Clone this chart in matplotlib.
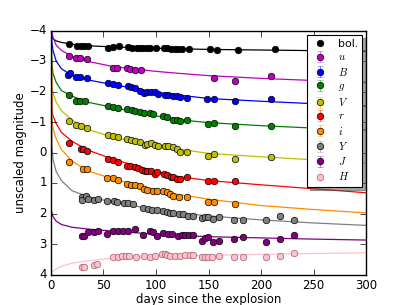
import matplotlib
matplotlib.use('Agg')
import matplotlib.pyplot as plt

plt.style.use('classic')
plt.rcParams['figure.facecolor'] = 'white'
plt.rcParams['savefig.facecolor'] = 'white'
plt.rcParams['font.size'] = 8.5
plt.rcParams['xtick.major.pad'] = 3
plt.rcParams['ytick.major.pad'] = 3

# observed points: days since explosion, unscaled magnitude
bol_t = [17.5, 24.4, 28.6, 31.7, 34.9, 54.6, 59.4, 64.4, 73.7, 76.8, 81.6, 84.8, 87.9, 91.1, 94.3,
         99.7, 107.6, 110.2, 114, 118, 121, 124.4, 131.7, 151.4, 158.4, 178.4, 213.3]
bol_m = [-3.55, -3.49, -3.50, -3.50, -3.50, -3.44, -3.46, -3.48, -3.46, -3.44, -3.42, -3.42, -3.42,
         -3.41, -3.42, -3.41, -3.42, -3.41, -3.40, -3.39, -3.39, -3.39, -3.40, -3.39, -3.37, -3.37, -3.40]

u_t = [17.5, 23.8, 27.6, 34, 58.7, 63.1, 72.7, 75.2, 80, 85.7, 155.6, 175.2, 209.5]
u_m = [-3.16, -3.09, -3.09, -3.07, -2.78, -2.78, -2.78, -2.74, -2.70, -2.69, -2.45, -2.36, -2.52]

B_t = [16.5, 18, 24, 28, 34, 54.6, 58.7, 63.5, 73, 75.9, 80, 84.8, 88.6, 91, 95.2, 99, 102, 109,
       111.7, 116.5, 119.7, 122.9, 129, 148.9, 155.5, 175.2, 209.5]
B_m = [-2.55, -2.60, -2.47, -2.46, -2.44, -2.28, -2.25, -2.20, -2.17, -2.14, -2.11, -2.01, -1.96,
       -1.97, -2.00, -1.98, -1.92, -1.90, -1.89, -1.85, -1.85, -1.81, -1.80, -1.76, -1.76, -1.69, -1.74]

g_t = [17.5, 24, 27.6, 32.4, 54.6, 58.7, 63.5, 72.7, 76.8, 80, 84.8, 88.6, 94.3, 97.4, 107, 110,
       116.5, 119.7, 122.9, 129, 149, 155.5, 175.2, 209.5]
g_m = [-1.87, -1.70, -1.70, -1.70, -1.51, -1.48, -1.47, -1.41, -1.38, -1.36, -1.32, -1.30, -1.30,
       -1.27, -1.19, -1.16, -1.08, -1.07, -1.04, -1.05, -0.94, -0.96, -0.86, -0.86]

V_t = [17.5, 24, 28.3, 34, 54.6, 58.7, 63.5, 72.7, 75.9, 80, 84.8, 89.5, 91.7, 95, 99, 102.2, 108.6,
       111.7, 115.9, 119.7, 122.9, 129, 149, 155.5, 175.2, 209.5]
V_m = [-1.02, -0.89, -0.86, -0.80, -0.58, -0.53, -0.50, -0.45, -0.42, -0.39, -0.34, -0.25, -0.28,
       -0.32, -0.25, -0.21, -0.21, -0.21, -0.17, -0.10, -0.03, -0.03, 0.10, 0.04, 0.21, 0.15]

r_t = [17.5, 28.3, 30.8, 34, 54, 58.7, 63.5, 72.7, 75.2, 80, 83.2, 86.4, 89.5, 91.7, 95, 99, 101.3,
       107.6, 110.2, 114, 116.5, 119.7, 122.9, 129, 149, 155.5, 175.2]
r_m = [-0.31, -0.12, -0.10, -0.06, 0.21, 0.24, 0.32, 0.43, 0.43, 0.49, 0.51, 0.57, 0.62, 0.60, 0.62,
       0.70, 0.65, 0.70, 0.75, 0.79, 0.81, 0.86, 0.86, 0.81, 0.95, 0.92, 0.95]

i_t = [17.5, 30.2, 34, 53.7, 58.7, 63.5, 72.7, 75.9, 80, 84.8, 88.6, 91, 97.4, 101, 107, 110.2,
       113.3, 116.5, 122, 129.2, 149, 155.5, 175.2]
i_m = [0.30, 0.53, 0.53, 0.84, 0.84, 0.89, 1.03, 1.06, 1.08, 1.10, 1.19, 1.22, 1.25, 1.27, 1.25,
       1.30, 1.36, 1.41, 1.47, 1.47, 1.61, 1.61, 1.68]

Y_t = [29.2, 29.2, 33.3, 35.5, 41, 45, 53.7, 60, 63.2, 69.5, 73.7, 78.4, 87.3, 92.7, 95.9, 100.6,
       107, 110.2, 113.3, 116.5, 122.2, 126, 130.8, 135, 143.5, 146.7, 149.8, 154.6, 160.3, 174.3,
       183.2, 204.8, 218, 231.4]
Y_m = [1.47, 1.55, 1.44, 1.52, 1.55, 1.52, 1.60, 1.60, 1.63, 1.66, 1.66, 1.70, 1.81, 1.85, 1.90,
       1.88, 1.93, 1.96, 1.99, 1.99, 2.02, 2.01, 2.07, 2.08, 2.14, 2.10, 2.11, 2.17, 2.10, 2.20,
       2.20, 2.21, 2.07, 2.21]

J_t = [29.5, 31.5, 35.5, 41, 45, 53.7, 59.4, 64.1, 68.9, 73.7, 80, 87.3, 94.3, 96.8, 100.6, 107,
       111.7, 115.5, 121.3, 124.4, 127.6, 131.7, 135.6, 143.5, 146.7, 149.8, 154.6, 160.3, 174.3,
       183.2, 204.8, 218.1, 231.4]
J_m = [2.75, 2.75, 2.61, 2.61, 2.56, 2.67, 2.56, 2.58, 2.56, 2.56, 2.52, 2.70, 2.56, 2.61, 2.75,
       2.63, 2.66, 2.68, 2.75, 2.69, 2.72, 2.71, 2.72, 2.89, 2.80, 2.78, 2.92, 2.89, 2.83, 2.78,
       2.92, 2.83, 2.72]

H_t = [29.2, 31.5, 41, 44, 59.4, 64, 67.5, 71.5, 74, 80.9, 89, 94, 99, 106, 108.5, 110.8, 113.3,
       118, 122.9, 127.8, 132.5, 135.6, 143.5, 146.7, 149.8, 153, 160.3, 174.3, 183.2, 204.8,
       218.1, 231.4]
H_m = [3.76, 3.76, 3.70, 3.65, 3.41, 3.41, 3.39, 3.39, 3.39, 3.41, 3.39, 3.41, 3.39, 3.32, 3.32,
       3.35, 3.38, 3.38, 3.38, 3.36, 3.36, 3.36, 3.43, 3.41, 3.41, 3.44, 3.38, 3.43, 3.41, 3.42,
       3.38, 3.31]

err = 0.04

# model curves
model_t = [0.2, 1, 2, 5, 10, 20, 35, 60, 100, 120, 150, 200, 250, 300]
bol_fit = [-3.85, -3.78, -3.73, -3.66, -3.61, -3.55, -3.50, -3.46, -3.42, -3.40, -3.38, -3.36, -3.34, -3.32]
u_fit = [-4.30, -3.95, -3.78, -3.52, -3.35, -3.15, -2.99, -2.81, -2.66, -2.60, -2.52, -2.43, -2.36, -2.30]
B_fit = [-4.40, -3.60, -3.35, -3.00, -2.75, -2.52, -2.38, -2.22, -1.98, -1.89, -1.77, -1.68, -1.60, -1.52]
g_fit = [-4.20, -2.90, -2.60, -2.30, -2.03, -1.85, -1.65, -1.47, -1.20, -1.08, -0.98, -0.88, -0.80, -0.74]
V_fit = [-4.20, -2.16, -1.95, -1.65, -1.37, -1.07, -0.75, -0.50, -0.22, -0.12, 0.03, 0.14, 0.24, 0.35]
r_fit = [-4.20, -1.40, -1.20, -0.95, -0.66, -0.37, -0.08, 0.23, 0.62, 0.78, 0.92, 1.06, 1.19, 1.32]
i_fit = [-4.20, -1.10, -0.80, -0.45, -0.10, 0.28, 0.60, 0.88, 1.22, 1.37, 1.53, 1.74, 1.87, 1.98]
Y_fit = [-4.50, -0.20, 0.22, 0.62, 0.92, 1.25, 1.45, 1.63, 1.88, 1.97, 2.08, 2.21, 2.31, 2.39]
J_fit = [1.88, 1.98, 2.10, 2.25, 2.36, 2.45, 2.51, 2.58, 2.68, 2.72, 2.76, 2.80, 2.84, 2.87]
H_fit = [4.10, 3.95, 3.90, 3.82, 3.73, 3.63, 3.55, 3.46, 3.41, 3.39, 3.37, 3.34, 3.31, 3.29]

bands = [
    ('$u$', u_t, u_m, u_fit, 'm'),
    ('$B$', B_t, B_m, B_fit, 'b'),
    ('$g$', g_t, g_m, g_fit, 'g'),
    ('$V$', V_t, V_m, V_fit, 'y'),
    ('$r$', r_t, r_m, r_fit, 'r'),
    ('$i$', i_t, i_m, i_fit, 'darkorange'),
    ('$Y$', Y_t, Y_m, Y_fit, 'gray'),
    ('$J$', J_t, J_m, J_fit, 'purple'),
    ('$H$', H_t, H_m, H_fit, 'pink'),
]

fig = plt.figure(figsize=(4.07, 3.05), dpi=100)
ax = fig.add_axes([0.125, 0.1, 0.775, 0.8])

ax.plot(model_t, bol_fit, '-', color='k', lw=0.9, zorder=1)
ax.plot(bol_t, bol_m, 'o', color='k', ms=4.7, mew=0.5, label='bol.', zorder=3)

for name, t, m, fit, c in bands:
    ax.plot(model_t, fit, '-', color=c, lw=0.9, zorder=1)
    edge = '#a0606a' if c == 'pink' else 'k'
    eb = ax.errorbar(t, m, yerr=[err] * len(t), fmt='o', color=c, mec=edge, ms=4.7, mew=0.5,
                     elinewidth=0.8, capsize=2, label=name, zorder=3)
    for cl in eb[1]:
        cl.set_alpha(0.5)
    for bl in eb[2]:
        bl.set_alpha(0.5)

ax.set_xlim(0, 300)
ax.set_ylim(4, -4)
ax.set_xlabel('days since the explosion', labelpad=1)
ax.set_ylabel('unscaled magnitude', labelpad=2)

leg = ax.legend(loc='upper right', numpoints=1, fontsize=7.8, shadow=True,
                handlelength=1.6, labelspacing=0.3, borderaxespad=0.4)
leg.get_frame().set_linewidth(0.8)

fig.savefig('out.png', dpi=100)
